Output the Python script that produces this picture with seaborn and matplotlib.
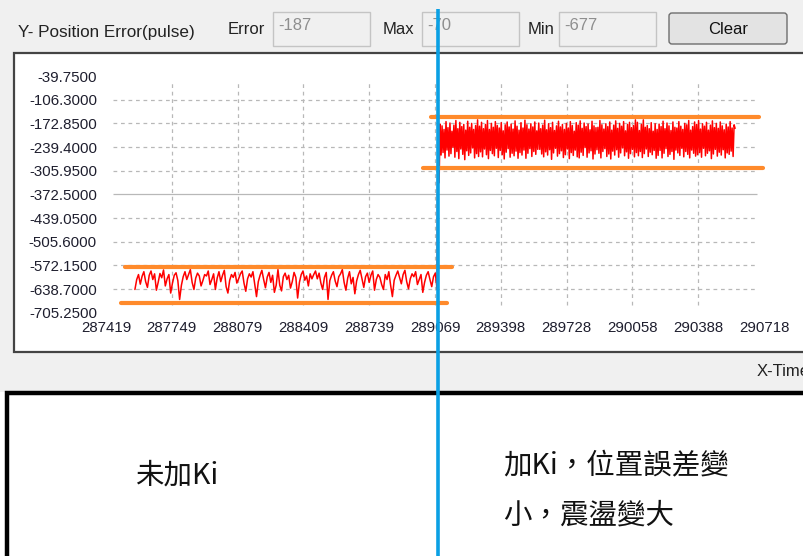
import numpy as np
import pandas as pd
import matplotlib
matplotlib.use("Agg")
import matplotlib.pyplot as plt
from matplotlib.patches import Rectangle, FancyBboxPatch
import seaborn as sns

# ---------------- data ----------------
y_ticks = [-39.75, -106.30, -172.85, -239.40, -305.95, -372.50,
           -439.05, -505.60, -572.15, -638.70, -705.25]
x_ticks = [287419, 287749, 288079, 288409, 288739, 289069,
           289398, 289728, 290058, 290388, 290718]

header_title = "Y- Position Error(pulse)"
field_labels = ["Error", "Max", "Min"]
field_values = ["-187", "-70", "-677"]
button_label = "Clear"
x_axis_title = "X-Time"
note_left = "未加Ki"
note_right = ["加Ki，位置誤差變", "小，震盪變大"]

# sample times (start / end of each recorded stretch)
left_t = (287564, 289079)
spike_t = [289084, 289089]
right_t = (289094, 290573)

left_err = [-640, -612, -598, -625, -603, -590, -618, -634, -600, -588,
            -612, -596, -642, -620, -595, -607, -585, -630, -610, -598,
            -650, -622, -600, -593, -615, -668, -628, -604, -590, -612,
            -598, -584, -620, -640, -608, -594, -602, -630, -615, -598,
            -602, -588, -626, -612, -596, -640, -608, -590, -618, -600,
            -586, -632, -650, -614, -598, -606, -592, -622, -610, -596,
            -588, -622, -645, -610, -596, -605, -590, -625, -660, -618,
            -600, -586, -612, -635, -605, -592, -620, -600, -648, -628,
            -584, -628, -644, -604, -594, -612, -600, -636, -618, -592,
            -606, -664, -620, -598, -588, -614, -602, -630, -596, -610,
            -598, -588, -610, -594, -622, -640, -606, -592, -668, -615,
            -600, -590, -616, -632, -604, -596, -584, -620, -642, -608,
            -590, -624, -606, -652, -616, -598, -586, -610, -634, -604,
            -594, -620, -600, -588, -642, -612, -598, -606, -626, -640,
            -598, -612, -590, -628, -660, -614, -600, -588, -606, -624,
            -598, -586, -618, -638, -610, -596, -604, -590, -626, -612,
            -598, -648, -620, -600, -590, -612, -632, -604, -594, -640]
spike_err = [-70, -340]
right_err = [-175, -262, -180, -255, -190, -270, -168, -248, -185, -265,
             -172, -258, -195, -240, -178, -268, -165, -252, -188, -272,
             -170, -245, -182, -260, -176, -275, -192, -250, -167, -263,
             -184, -256, -173, -242, -190, -270, -179, -258, -163, -266,
             -181, -253, -170, -267, -188, -245, -176, -261, -165, -272,
             -190, -249, -173, -258, -184, -264, -168, -243, -179, -269,
             -186, -249, -171, -261, -194, -273, -177, -254, -169, -244,
             -183, -268, -175, -257, -189, -264, -166, -251, -181, -271,
             -192, -255, -171, -262, -186, -248, -164, -271, -177, -257,
             -189, -244, -174, -266, -183, -252, -169, -260, -194, -246,
             -172, -246, -188, -259, -178, -267, -164, -253, -191, -262,
             -174, -247, -185, -274, -170, -256, -193, -243, -180, -265,
             -167, -258, -183, -250, -176, -269, -190, -261, -173, -245,
             -186, -272, -168, -255, -179, -263, -195, -248, -171, -267,
             -178, -270, -166, -254, -187, -263, -172, -241, -182, -268,
             -175, -256, -191, -250, -167, -273, -180, -259, -185, -247,
             -184, -257, -165, -270, -177, -252, -189, -244, -174, -266,
             -182, -259, -169, -273, -192, -251, -178, -262, -166, -247,
             -187, -268, -173, -256, -181, -242, -168, -264, -194, -253,
             -176, -271, -170, -258, -185, -246, -179, -267, -163, -255,
             -170, -264, -193, -252, -176, -269, -163, -258, -184, -245,
             -179, -266, -188, -254, -171, -261, -195, -249, -174, -271,
             -190, -263, -175, -249, -182, -270, -167, -257, -188, -244,
             -172, -266, -180, -260, -193, -252, -169, -274, -184, -248,
             -186, -256, -168, -263, -181, -243, -190, -267, -173, -252,
             -177, -260, -165, -270, -192, -248, -182, -257, -169, -265,
             -176, -261, -165, -255, -189, -268, -174, -243, -181, -264,
             -170, -257, -192, -250, -178, -272, -166, -259, -185, -246,
             -173, -265, -187, -254, -169, -262, -180, -247, -191, -270,
             -175, -256, -183, -260, -168, -251, -186, -266, -177, -187]

# hand-drawn orange band markers: (level, t_start, t_end)
bands = [(-576, 287514, 289154), (-678, 287494, 289129),
         (-155, 289049, 290694), (-298, 289009, 290714)]

# ---------------- build data frame ----------------
t = np.concatenate([np.linspace(left_t[0], left_t[1], len(left_err)),
                    np.array(spike_t, float),
                    np.linspace(right_t[0], right_t[1], len(right_err))])
err = np.concatenate([left_err, spike_err, right_err]).astype(float)
df = pd.DataFrame({"time": t, "error": err})

# ---------------- figure ----------------
sns.set_style("white")
plt.rcParams["font.family"] = ["Liberation Sans", "Noto Sans CJK TC", "DejaVu Sans"]

W, H = 804, 556
fig = plt.figure(figsize=(W / 100, H / 100), dpi=100)

# UI background layer (pixel coordinates)
bg = fig.add_axes([0, 0, 1, 1], zorder=0)
bg.set_xlim(0, W)
bg.set_ylim(H, 0)
bg.axis("off")
bg.add_patch(Rectangle((0, 0), W, 392, facecolor="#f0f0f0", edgecolor="none"))
bg.add_patch(Rectangle((14, 53), 820, 299, facecolor="white",
                       edgecolor="#444444", lw=1.6))
bg.add_patch(Rectangle((7, 393), 830, 200, facecolor="white",
                       edgecolor="black", lw=3.2))

ui_font = ["Liberation Sans Narrow", "Liberation Sans", "DejaVu Sans"]
bg.text(18, 33, header_title, fontsize=12.3, family=ui_font, color="#222222",
        ha="left", va="center")
label_x = [228, 383, 528]
box_x = [273, 422, 559]
for lx, bxx, lab, val in zip(label_x, box_x, field_labels, field_values):
    bg.text(lx, 29, lab, fontsize=12, family=ui_font, color="#222222",
            ha="left", va="center")
    bg.add_patch(Rectangle((bxx, 12), 97, 34, facecolor="#f0f0f0",
                           edgecolor="#c4c4c4", lw=1.0))
    bg.text(bxx + 5, 25, val, fontsize=12, family=ui_font, color="#8e8e8e",
            ha="left", va="center")
bg.add_patch(FancyBboxPatch((669, 13), 118, 31, boxstyle="round,pad=0,rounding_size=3",
                            facecolor="#e3e3e3", edgecolor="#6e6e6e", lw=1.0))
bg.text(728, 29, button_label, fontsize=12, family=ui_font, color="#111111",
        ha="center", va="center")
bg.text(757, 372, x_axis_title, fontsize=12, family=ui_font, color="#222222",
        ha="left", va="center")

cjk = ["Noto Sans CJK TC", "DejaVu Sans"]
bg.text(135, 476, note_left, fontsize=20.5, family=cjk, color="#111111",
        ha="left", va="center")
bg.text(503, 466, note_right[0], fontsize=20.5, family=cjk, color="#111111",
        ha="left", va="center")
bg.text(503, 516, note_right[1], fontsize=20.5, family=cjk, color="#111111",
        ha="left", va="center")

# data axes
ax = fig.add_axes([106 / W, 1 - 312.7 / H, 658 / W, 236.7 / H], zorder=2)
ax.set_facecolor("none")
ax.set_xlim(x_ticks[0], x_ticks[-1])
ax.set_ylim(y_ticks[-1], y_ticks[0])

grid_col = "#b8b8b8"
gx0, gx1 = 287454, 290684
gy0, gy1 = -59.4, -683.6
for i, yv in enumerate(y_ticks[1:-1]):
    ls = "-" if abs(yv - (-372.5)) < 1e-6 else (0, (3, 3))
    ax.hlines(yv, gx0, gx1, colors=grid_col, lw=0.9, linestyles=ls, zorder=1)
for xv in x_ticks[1:-1]:
    ax.vlines(xv, gy1, gy0, colors=grid_col, lw=0.9, linestyles=(0, (3, 3)), zorder=1)

sns.lineplot(data=df, x="time", y="error", ax=ax, color="#ff0000", lw=1.1,
             estimator=None, sort=False, zorder=3)

for level, t0, t1 in bands:
    ax.plot([t0, t1], [level, level], color="#ff8a2b", lw=3.0,
            solid_capstyle="round", clip_on=False, zorder=4)

ax.set_yticks(y_ticks)
ax.set_yticklabels([f"{v:.4f}" for v in y_ticks])
ax.set_xticks(x_ticks)
ax.set_xticklabels([str(v) for v in x_ticks])
ax.tick_params(axis="both", length=0, labelsize=10.8, colors="#1e1e2e")
ax.tick_params(axis="y", pad=6.5)
ax.tick_params(axis="x", pad=6)
ax.set_xlabel("")
ax.set_ylabel("")
for s in ax.spines.values():
    s.set_visible(False)

# overlay (blue marker line)
fg = fig.add_axes([0, 0, 1, 1], zorder=5)
fg.set_xlim(0, W)
fg.set_ylim(H, 0)
fg.axis("off")
fg.set_facecolor("none")
fg.plot([438, 438], [9, H], color="#0aa0e4", lw=2.6, solid_capstyle="butt")

fig.savefig("out.png", dpi=100)
